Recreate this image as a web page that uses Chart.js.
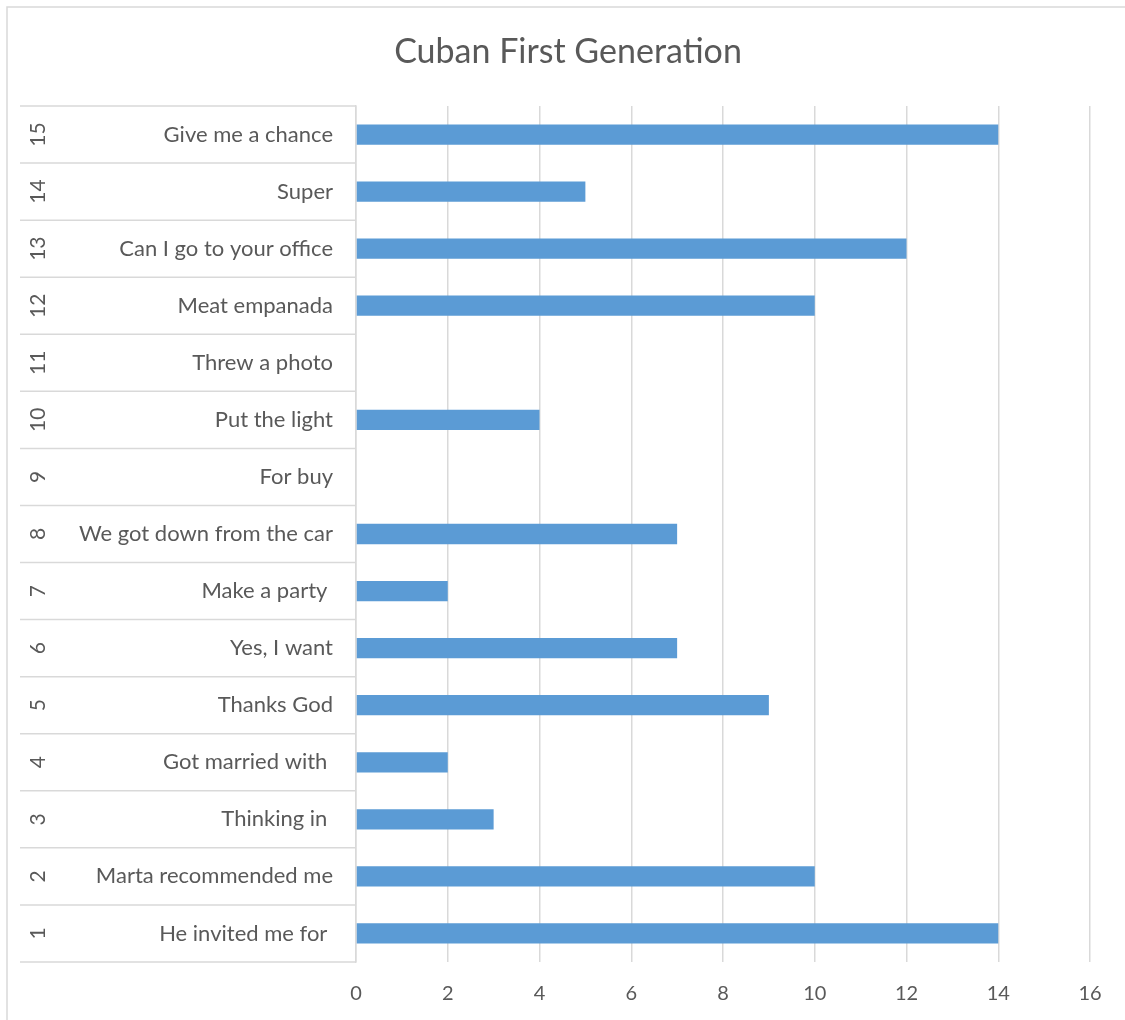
<!DOCTYPE html>
<html>
<head>
<meta charset="utf-8">
<title>Cuban First Generation</title>
<script src="https://cdn.jsdelivr.net/npm/chart.js@4.4.1/dist/chart.umd.min.js"></script>
<style>
  html, body { margin: 0; padding: 0; background: #fff; }
  #wrap { position: relative; width: 1125px; height: 1020px; }
</style>
</head>
<body>
<div id="wrap"><canvas id="chart" width="1125" height="1020"></canvas></div>
<script>
// rows are listed bottom-up (1 at the bottom of the chart)
const rowNumbers = ['1', '2', '3', '4', '5', '6', '7', '8', '9', '10', '11', '12', '13', '14', '15'];
const phrases = [
  'He invited me for ',
  'Marta recommended me',
  'Thinking in ',
  'Got married with ',
  'Thanks God',
  'Yes, I want',
  'Make a party ',
  'We got down from the car',
  'For buy',
  'Put the light',
  'Threw a photo',
  'Meat empanada',
  'Can I go to your office',
  'Super',
  'Give me a chance'
];
const counts = [14, 10, 3, 2, 9, 7, 2, 7, 0, 4, 0, 10, 12, 5, 14];
const xTickValues = [0, 2, 4, 6, 8, 10, 12, 14, 16];
const chartTitle = 'Cuban First Generation';

const FONT = 'Lato, "Noto Sans", sans-serif';
const TEXT = '#595959';
const LINE = '#d9d9d9';

Chart.defaults.font.family = FONT;
Chart.defaults.color = TEXT;

// outer frame, title, category table lines and the rotated row numbers
const tablePlugin = {
  id: 'tablePlugin',
  beforeDraw(chart) {
    const ctx = chart.ctx;
    ctx.save();
    ctx.strokeStyle = LINE;
    ctx.lineWidth = 1.5;
    ctx.strokeRect(7, 7, chart.width + 20, chart.height + 20);

    ctx.fillStyle = TEXT;
    ctx.font = '34px ' + FONT;
    ctx.textAlign = 'center';
    ctx.textBaseline = 'middle';
    ctx.fillText(chartTitle, 568, 52);
    ctx.restore();
  },
  afterDraw(chart) {
    const ctx = chart.ctx;
    const y = chart.scales.y;
    const half = Math.abs(y.getPixelForValue(1) - y.getPixelForValue(0)) / 2;
    ctx.save();
    ctx.strokeStyle = LINE;
    ctx.lineWidth = 1.5;
    ctx.beginPath();
    rowNumbers.forEach((n, i) => {
      const p = y.getPixelForValue(i);
      [p - half, p + half].forEach(b => {
        ctx.moveTo(y.left, b);
        ctx.lineTo(y.right, b);
      });
    });
    ctx.stroke();

    ctx.fillStyle = TEXT;
    ctx.font = '21px ' + FONT;
    ctx.textAlign = 'center';
    ctx.textBaseline = 'middle';
    rowNumbers.forEach((n, i) => {
      const p = y.getPixelForValue(i);
      ctx.save();
      ctx.translate(y.left + 18, p);
      ctx.rotate(-Math.PI / 2);
      ctx.fillText(n, 0, 0);
      ctx.restore();
    });
    ctx.restore();
  }
};

new Chart(document.getElementById('chart').getContext('2d'), {
  type: 'bar',
  data: {
    labels: phrases,
    datasets: [{
      label: chartTitle,
      data: counts,
      backgroundColor: '#5b9bd5',
      borderWidth: 0,
      categoryPercentage: 1,
      barPercentage: 0.355
    }]
  },
  options: {
    indexAxis: 'y',
    responsive: false,
    animation: false,
    layout: { padding: { left: 20, right: 35, top: 106, bottom: 0 } },
    plugins: {
      legend: { display: false },
      tooltip: { enabled: false },
      title: { display: false }
    },
    scales: {
      x: {
        min: 0,
        max: 16,
        afterBuildTicks(scale) { scale.ticks = xTickValues.map(v => ({ value: v })); },
        afterFit(scale) { scale.height = 58; },
        grid: { color: LINE, lineWidth: 1.5, drawTicks: false },
        border: { display: false },
        ticks: { padding: 20, font: { size: 20 }, color: TEXT }
      },
      y: {
        reverse: true,
        afterFit(scale) { scale.width = 336; },
        grid: { display: false, drawTicks: false },
        border: { display: true, color: LINE, width: 1.5 },
        ticks: { padding: 23, font: { size: 22 }, color: TEXT }
      }
    }
  },
  plugins: [tablePlugin]
});
</script>
</body>
</html>
